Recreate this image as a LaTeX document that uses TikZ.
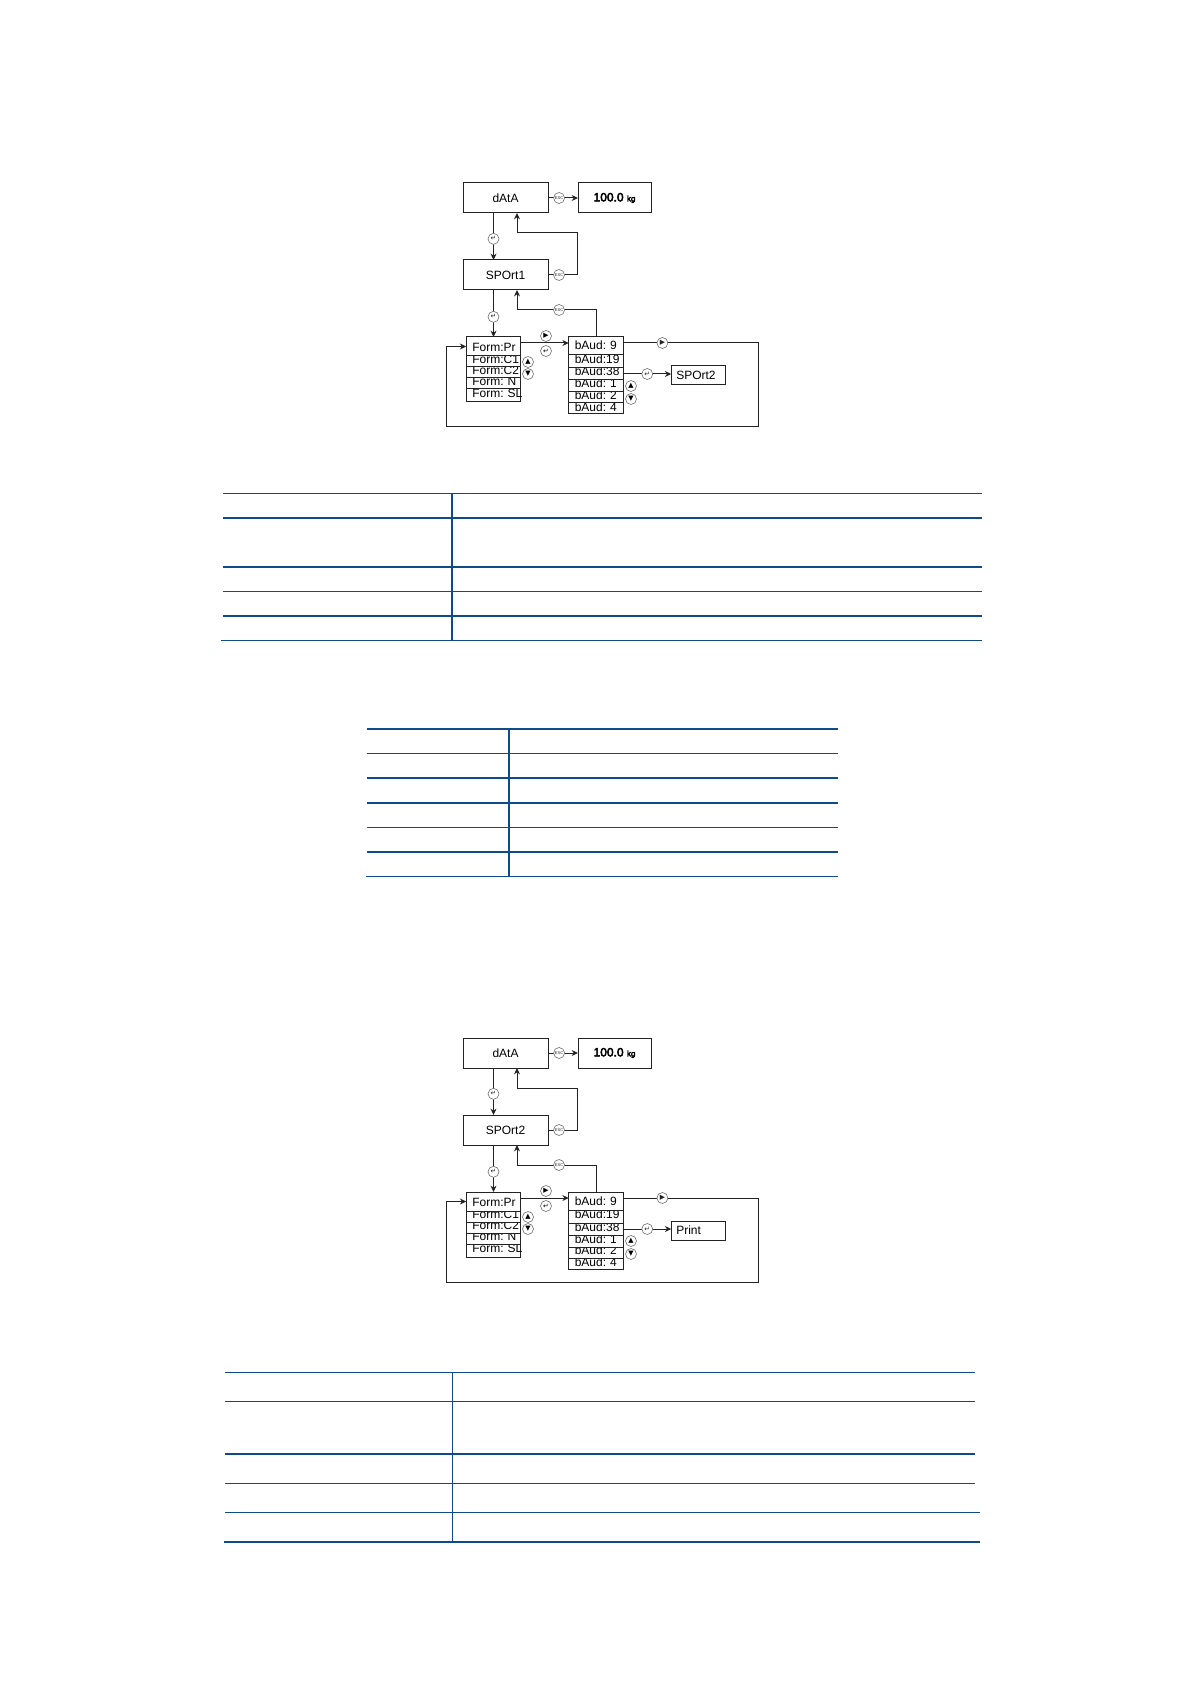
\documentclass[tikz,border=0pt]{standalone}
\usepackage{fontspec}
\usepackage{xcolor}
\setmainfont{Liberation Sans}
\newfontfamily\symfont{DejaVu Sans}
\newfontfamily\heavyfont[FakeBold=4]{Liberation Sans}
\usetikzlibrary{arrows.meta, positioning, calc}
\definecolor{mydark}{RGB}{35,35,35}
\definecolor{mygray}{RGB}{110,110,110}
\definecolor{myblue}{RGB}{15,75,135}
\tikzset{
  block/.style={rectangle, draw=mydark, fill=white, inner sep=0pt, outer sep=0pt,
    minimum width=42.5pt, minimum height=15pt, line width=0.5pt,
    font=\fontsize{6}{7}\selectfont},
  rowblock/.style={rectangle, draw=mydark, fill=white, inner ysep=0pt, inner xsep=3pt, outer sep=0pt,
    text width=21.25pt, align=left, text height=2pt, text depth=0pt, line width=0.5pt,
    font=\fontsize{6}{7}\selectfont\frenchspacing},
  nextblock/.style={rectangle, draw=mydark, fill=white, inner ysep=0pt, inner xsep=2.5pt, outer sep=0pt,
    text width=22pt, align=left, minimum height=9.5pt, line width=0.5pt,
    font=\fontsize{6}{7}\selectfont},
  key/.style={circle, draw=mygray, fill=white, inner sep=0pt, minimum size=5.5pt, line width=0.3pt},
  keyesc/.style={key, font=\fontsize{2}{2}\selectfont},
  keysym/.style={key, font=\symfont\fontsize{3.4}{3.4}\selectfont},
  arrow/.style={-{Stealth[length=3.2pt,width=3pt]}, line width=0.5pt, color=mydark},
  line/.style={line width=0.5pt, color=mydark},
  thinrule/.style={line width=0.65pt, color=myblue},
  thickrule/.style={line width=1pt, color=myblue}
}
\begin{document}
\begin{tikzpicture}[x=0.5pt, y=-0.5pt]
  \useasboundingbox (0,0) rectangle (1191,1684);

  % two menu diagrams
  \foreach \dy/\pre/\here/\there in {0/a/SPOrt1/SPOrt2, 855/b/SPOrt2/Print} {
  \begin{scope}[shift={(0,\dy)}, name prefix=\pre-]
    \node[block] (data) at (505.5,198) {dAtA};
    \node[block, minimum width=36.5pt, right=15pt of data] (value)
      {{\heavyfont 100.0} \fontsize{4}{4}\heavyfont kg};
    \node[block, below=23.5pt of data] (port) {\here};

    % rows are stacked from the bottom so each one covers the text below it
    \node[rowblock, minimum height=6.5pt] (fsl) at (493.5,395.5) {\rlap{Form: SL}};
    \node[rowblock, minimum height=5.5pt, above=0pt of fsl] (fn) {\rlap{Form: N}};
    \node[rowblock, minimum height=5.5pt, above=0pt of fn] (fc2) {\rlap{Form:C2}};
    \node[rowblock, minimum height=5.5pt, above=0pt of fc2] (fc1) {\rlap{Form:C1}};
    \node[rowblock, minimum height=9.5pt, text height=5pt, above=0pt of fc1] (fpr) {\rlap{Form:Pr}};

    \node[rowblock, minimum height=5.5pt, text height=3pt] (b4) at (596,408.5) {\rlap{bAud: 4}};
    \node[rowblock, minimum height=5.5pt, above=0pt of b4] (b2) {\rlap{bAud: 2}};
    \node[rowblock, minimum height=6pt, above=0pt of b2] (b1) {\rlap{bAud: 1}};
    \node[rowblock, minimum height=6pt, above=0pt of b1] (b38) {\rlap{bAud:38}};
    \node[rowblock, minimum height=6.5pt, above=0pt of b38] (b19) {\rlap{bAud:19}};
    \node[rowblock, minimum height=9pt, text height=4pt, above=0pt of b19] (b9) {\rlap{bAud: 9}};

    \node[nextblock, right=24pt of b38, yshift=-0.75pt] (next) {\there};

    \draw[arrow] (data.east) -- node[keyesc, pos=0.37] (esc1) {ESC} (value.west);
    \draw[arrow] (data.south -| fpr.north) -- node[keysym, pos=0.55] (ent1) {↵} (port.north -| fpr.north);
    \draw[arrow] (port.east) -- node[keyesc, pos=0.38] (esc2) {ESC} ++(14.5pt,0) -- ++(0,21pt)
      -| ([xshift=5.75pt]data.south);
    \draw[arrow] (port.south -| fpr.north) -- node[keysym, pos=0.57] (ent2) {↵} (fpr.north);
    \draw[arrow] (b9.north) -- ++(0,13.5pt) -| node[keyesc, pos=0.234] (esc3) {ESC}
      ([xshift=5.75pt]port.south);
    \draw[arrow] ([yshift=1.5pt]b9.west -| fpr.east) -- ([yshift=1.5pt]b9.west);
    \draw[arrow] ([yshift=1.5pt]b9.east) -- node[keysym, pos=0.29] (rgt1) {▶} ++(67.5pt,0)
      -- ++(0,-42pt) -- ++(-156pt,0) |- (fpr.west);
    \draw[arrow] (b38.east) -- node[keysym, pos=0.5] (ent3) {↵} (b38.east -| next.west);

    \node[keysym] (rgt2) at (546,336) {▶};
    \node[keysym] (ent4) at (546,351) {↵};
    \node[keysym] (upf) at (528,362) {▲};
    \node[keysym] (dnf) at (528,374) {▼};
    \node[keysym] (upb) at (631,386) {▲};
    \node[keysym] (dnb) at (631,399) {▼};
  \end{scope}
  }

  % first table
  \foreach \y in {493.7,591.3} \draw[thinrule] (223,\y) -- (982,\y);
  \foreach \y in {518,567,616} \draw[thickrule] (223,\y) -- (982,\y);
  \draw[thinrule] (221,640.3) -- (982,640.3);
  \draw[thickrule] (452,493.7) -- (452,640.3);

  % second table
  \foreach \y in {753.3,827.3} \draw[thinrule] (367,\y) -- (838,\y);
  \foreach \y in {728.7,777.7,802.7,851.7} \draw[thickrule] (367,\y) -- (838,\y);
  \draw[thinrule] (366,876.3) -- (838,876.3);
  \draw[thickrule] (509,728.7) -- (509,876.3);

  % third table
  \foreach \y in {1372.3,1401.3,1483.3} \draw[thinrule] (225,\y) -- (975,\y);
  \draw[thickrule] (225,1454) -- (975,1454);
  \draw[thinrule] (225,1512.3) -- (980,1512.3);
  \draw[thickrule] (224,1542) -- (980,1542);
  \draw[thinrule] (452.4,1372.3) -- (452.4,1542);
\end{tikzpicture}
\end{document}
